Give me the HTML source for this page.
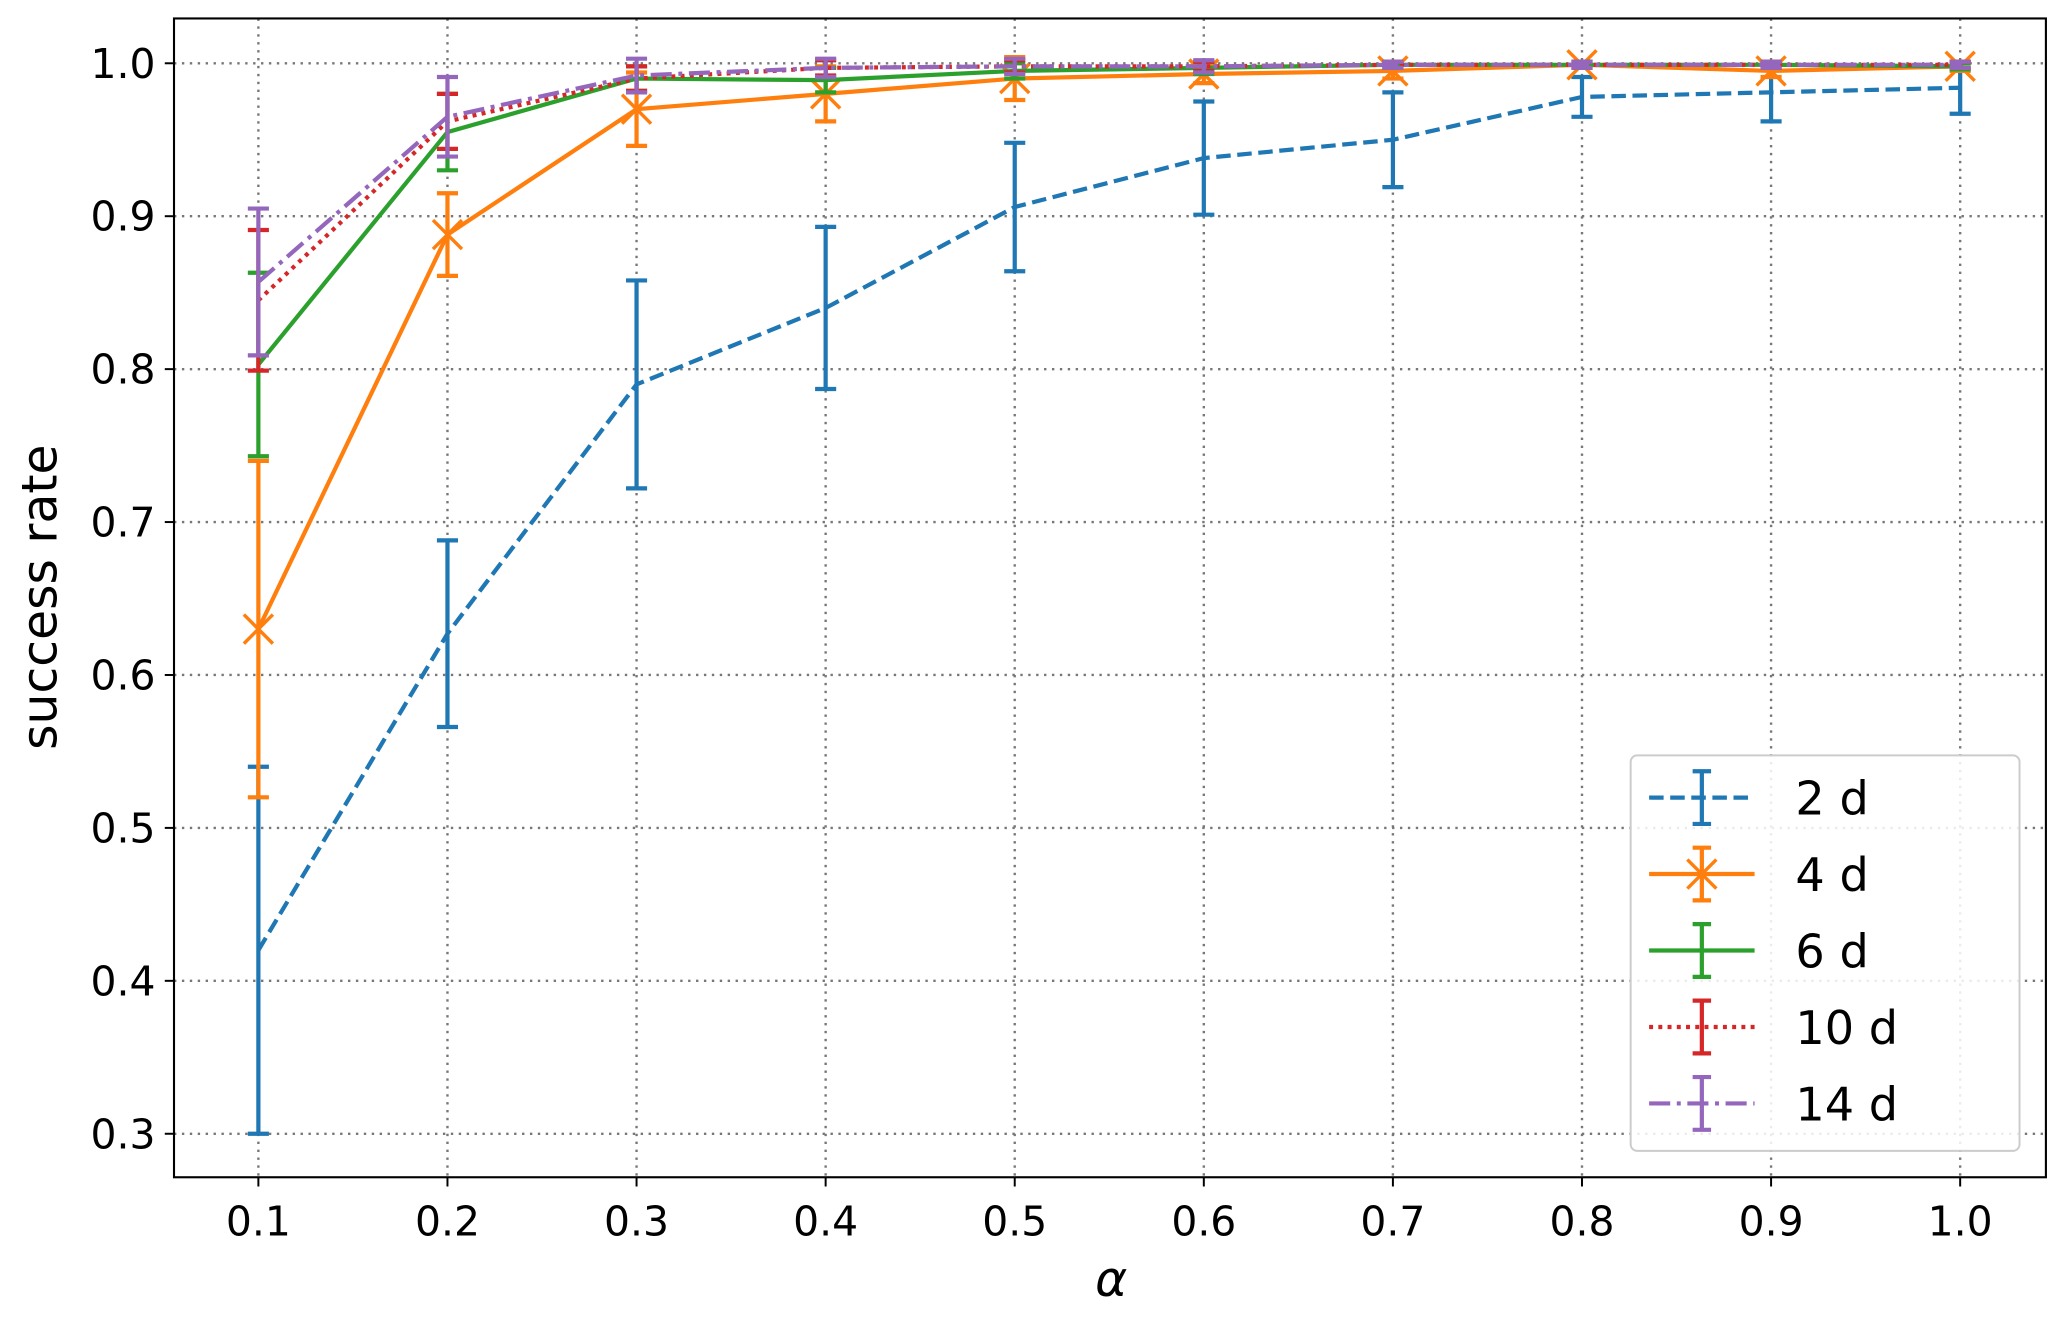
<!DOCTYPE html>
<html><head><meta charset="utf-8"><style>html,body{margin:0;padding:0;background:#fff}svg{display:block}</style></head>
<body>
<svg id="s" xmlns="http://www.w3.org/2000/svg" width="2067" height="1317" viewBox="0 0 1568 999" preserveAspectRatio="none" font-family="'DejaVu Sans','Liberation Sans',sans-serif"></svg>
<script>
const s=document.getElementById('s');
const X=a=>196+(a-0.1)/0.1*143.44, Y=v=>48+(1-v)/0.1*116;
let h='';
for(let i=1;i<=10;i++){const x=X(i/10);h+=`<line x1="${x}" y1="14" x2="${x}" y2="893" stroke="#777" stroke-width="1.8" stroke-dasharray="1.8,4.2"/>`;
h+=`<line x1="${x}" y1="893" x2="${x}" y2="900" stroke="#000" stroke-width="1.5"/><text x="${x}" y="937" font-size="31" text-anchor="middle">${(i/10).toFixed(1)}</text>`;}
for(let i=3;i<=10;i++){const y=Y(i/10);h+=`<line x1="132" y1="${y}" x2="1552" y2="${y}" stroke="#777" stroke-width="1.8" stroke-dasharray="1.8,4.2"/>`;
h+=`<line x1="125" y1="${y}" x2="132" y2="${y}" stroke="#000" stroke-width="1.5"/><text x="118" y="${y+11}" font-size="31" text-anchor="end">${(i/10).toFixed(1)}</text>`;}
const xs=[.1,.2,.3,.4,.5,.6,.7,.8,.9,1];
const S=[
{c:'#1f77b4',d:'11,5',m:[.42,.627,.79,.84,.906,.938,.95,.978,.981,.984],e:[.12,.061,.068,.053,.042,.037,.031,.013,.019,.017]},
{c:'#ff7f0e',d:'',x:1,m:[.63,.888,.97,.98,.99,.993,.995,.999,.995,.998],e:[.11,.027,.024,.018,.014,.006,.005,.002,.004,.003]},
{c:'#2ca02c',d:'',m:[.803,.955,.99,.989,.995,.997,.999,.999,.999,.998],e:[.06,.025,.008,.008,.005,.004,.002,.002,.002,.002]},
{c:'#d62728',d:'3,4',m:[.845,.962,.99,.997,.998,.998,.999,.999,.999,.999],e:[.046,.018,.008,.005,.004,.003,.002,.002,.002,.002]},
{c:'#9467bd',d:'16,5,3,5',m:[.857,.965,.992,.997,.998,.998,.999,.999,.999,.999],e:[.048,.026,.011,.006,.005,.004,.002,.002,.002,.002]}];
const W=3.2;
for(const q of S){
 let p=xs.map((a,i)=>X(a)+','+Y(q.m[i])).join(' ');
 h+=`<polyline points="${p}" fill="none" stroke="${q.c}" stroke-width="${W}" ${q.d?`stroke-dasharray="${q.d}"`:''}/>`;
 xs.forEach((a,i)=>{const x=X(a),y1=Y(q.m[i]-q.e[i]),y2=Y(q.m[i]+q.e[i]);
  h+=`<line x1="${x}" y1="${y1}" x2="${x}" y2="${y2}" stroke="${q.c}" stroke-width="${W}"/><line x1="${x-8}" y1="${y1}" x2="${x+8}" y2="${y1}" stroke="${q.c}" stroke-width="${W}"/><line x1="${x-8}" y1="${y2}" x2="${x+8}" y2="${y2}" stroke="${q.c}" stroke-width="${W}"/>`;
  if(q.x){const y=Y(q.m[i]);h+=`<path d="M${x-11} ${y-11}L${x+11} ${y+11}M${x-11} ${y+11}L${x+11} ${y-11}" stroke="${q.c}" stroke-width="2.6"/>`;}
 });
}
h+=`<rect x="132" y="14" width="1420" height="879" fill="none" stroke="#000" stroke-width="1.6"/>`;
h+=`<rect x="1237" y="573" width="295" height="300" rx="5" fill="#fff" fill-opacity="0.85" stroke="#ccc" stroke-width="1.5"/>`;
const L=['2 d','4 d','6 d','10 d','14 d'];
S.forEach((q,i)=>{const y=605+i*58,x=1291;
 h+=`<line x1="1251" y1="${y}" x2="1331" y2="${y}" stroke="${q.c}" stroke-width="${W}" ${q.d?`stroke-dasharray="${q.d}"`:''}/>`;
 h+=`<line x1="${x}" y1="${y-20}" x2="${x}" y2="${y+20}" stroke="${q.c}" stroke-width="${W}"/><line x1="${x-7}" y1="${y-20}" x2="${x+7}" y2="${y-20}" stroke="${q.c}" stroke-width="${W}"/><line x1="${x-7}" y1="${y+20}" x2="${x+7}" y2="${y+20}" stroke="${q.c}" stroke-width="${W}"/>`;
 if(q.x)h+=`<path d="M${x-11} ${y-11}L${x+11} ${y+11}M${x-11} ${y+11}L${x+11} ${y-11}" stroke="${q.c}" stroke-width="2.6"/>`;
 h+=`<text x="1362" y="${y+13}" font-size="35">${L[i]}</text>`;});
h+=`<text x="843" y="983" font-size="37" font-style="italic" text-anchor="middle">α</text>`;
h+=`<text transform="translate(43,453) rotate(-90)" font-size="37" text-anchor="middle">success rate</text>`;
s.innerHTML=h;
</script>
</body></html>
